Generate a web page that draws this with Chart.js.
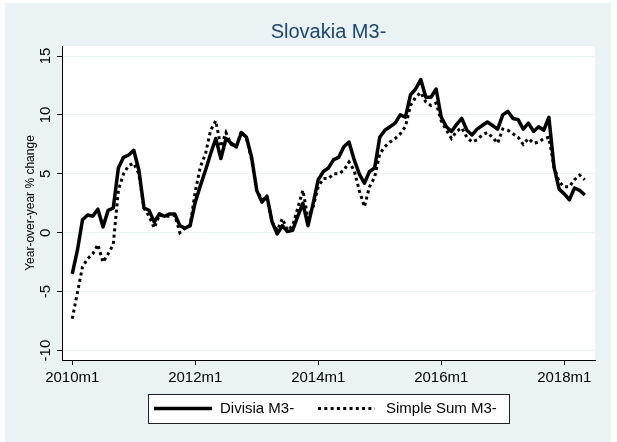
<!DOCTYPE html>
<html lang="en">
<head>
  <meta charset="UTF-8" />
  <title>Slovakia M3-</title>
  <script src="https://cdn.jsdelivr.net/npm/chart.js"></script>
  <style>
    html, body { margin: 0; padding: 0; background: #ffffff; }
    #wrap { width: 617px; height: 442px; }
  </style>
</head>
<body>
<div id="wrap"><canvas id="m3Chart" width="617" height="442"></canvas></div>

<script>
  // monthly year-over-year % change, 2010m1 .. 2018m5
  const startYear = 2010;
  const divisia = [
    -3.5, -1.5, 1.1, 1.5, 1.4, 2.0, 0.5, 1.9, 2.1, 5.5, 6.4, 6.6,
    7.0, 5.3, 2.1, 1.9, 0.9, 1.6, 1.4, 1.6, 1.6, 0.6, 0.4, 0.6,
    2.6, 4.0, 5.3, 6.7, 8.0, 6.3, 8.0, 7.6, 7.3, 8.5, 8.1, 6.4,
    3.6, 2.6, 3.1, 0.9, -0.1, 0.6, 0.1, 0.2, 1.4, 2.5, 0.6, 2.5,
    4.5, 5.2, 5.5, 6.2, 6.4, 7.3, 7.7, 6.2, 5.0, 4.2, 5.2, 5.5,
    8.1, 8.7, 9.0, 9.3, 10.0, 9.8, 11.7, 12.2, 13.0, 11.5, 11.5, 12.2,
    9.8, 9.0, 8.6, 9.2, 9.7, 8.7, 8.3, 8.8, 9.1, 9.4, 9.1, 8.8,
    10.0, 10.3, 9.7, 9.6, 8.8, 9.3, 8.6, 9.0, 8.7, 9.8, 5.6, 3.7,
    3.3, 2.8, 3.8, 3.6, 3.2
  ];
  const simpleSum = [
    -7.3, -5.1, -2.9, -2.2, -1.8, -1.0, -2.5, -1.8, -1.0, 3.6, 5.0, 5.7,
    5.9, 5.0, 2.1, 1.4, 0.4, 1.5, 1.4, 1.4, 1.5, 0.0, 0.4, 0.6,
    3.5, 5.6, 6.7, 8.7, 9.5, 7.3, 8.5, 7.5, 7.3, 8.6, 8.0, 6.2,
    3.6, 2.8, 3.0, 0.9, 0.2, 1.2, 0.2, 0.6, 2.1, 3.6, 1.2, 2.2,
    3.9, 4.6, 4.6, 5.0, 5.0, 5.3, 6.0, 5.3, 3.6, 2.2, 3.9, 4.7,
    6.7, 7.3, 7.7, 8.0, 8.4, 9.0, 10.8, 11.5, 11.9, 11.1, 10.8, 11.0,
    9.5, 8.7, 8.0, 8.6, 8.9, 8.1, 7.7, 7.9, 8.3, 8.5, 8.1, 7.6,
    8.8, 8.7, 8.4, 8.1, 7.5, 8.0, 7.6, 7.7, 8.0, 8.1, 5.6, 4.3,
    3.9, 3.9, 4.5, 4.9, 4.5
  ];
  const seriesLabels = ['Divisia M3-', 'Simple Sum M3-'];
  const xTickValues = [0, 24, 48, 72, 96];
  const xTickLabels = ['2010m1', '2012m1', '2014m1', '2016m1', '2018m1'];
  const yTickValues = [-10, -5, 0, 5, 10, 15];

  const FONT = "'Liberation Sans', Arial, sans-serif";
  const BG = '#eaf2f3';

  const toPoints = arr => arr.map((v, i) => ({ x: i, y: v }));

  // gray graph region, white plot region
  const backdrop = {
    id: 'backdrop',
    beforeDraw(chart) {
      const { ctx, chartArea: a } = chart;
      ctx.save();
      ctx.fillStyle = '#ffffff';
      ctx.fillRect(0, 0, chart.width, chart.height);
      ctx.fillStyle = BG;
      ctx.fillRect(5, 3, 606, 439);
      ctx.fillStyle = '#ffffff';
      ctx.fillRect(a.left, a.top, a.right - a.left, a.bottom - a.top);
      ctx.restore();
    }
  };

  // boxed legend below the axis, like Stata's
  const boxLegend = {
    id: 'boxLegend',
    afterDraw(chart) {
      const { ctx } = chart;
      const ds = chart.data.datasets;
      const box = { x: 148, y: 394, w: 361, h: 29 };
      const cy = box.y + box.h / 2;
      const items = [
        { x0: 154, x1: 212, tx: 220 },
        { x0: 318, x1: 375, tx: 386 }
      ];
      ctx.save();
      ctx.fillStyle = '#ffffff';
      ctx.fillRect(box.x, box.y, box.w, box.h);
      ctx.strokeStyle = '#222222';
      ctx.lineWidth = 1;
      ctx.strokeRect(box.x + 0.5, box.y + 0.5, box.w, box.h);
      items.forEach((it, i) => {
        const d = ds[i];
        ctx.beginPath();
        ctx.setLineDash(d.borderDash || []);
        ctx.lineCap = 'butt';
        ctx.lineWidth = d.borderWidth;
        ctx.strokeStyle = d.borderColor;
        ctx.moveTo(it.x0, cy);
        ctx.lineTo(it.x1, cy);
        ctx.stroke();
        ctx.setLineDash([]);
        ctx.fillStyle = '#000000';
        ctx.font = '15px ' + FONT;
        ctx.textBaseline = 'middle';
        ctx.textAlign = 'left';
        ctx.fillText(d.label, it.tx, cy + 0.5);
      });
      ctx.restore();
    }
  };

  const ctx = document.getElementById('m3Chart').getContext('2d');
  new Chart(ctx, {
    type: 'line',
    data: {
      datasets: [
        {
          label: seriesLabels[0],
          data: toPoints(divisia),
          borderColor: '#000000',
          borderWidth: 3.5,
          borderJoinStyle: 'round',
          pointRadius: 0,
          tension: 0,
          fill: false,
          order: 2
        },
        {
          label: seriesLabels[1],
          data: toPoints(simpleSum),
          borderColor: '#000000',
          borderWidth: 3,
          borderDash: [3, 3.3],
          borderCapStyle: 'butt',
          pointRadius: 0,
          tension: 0,
          fill: false,
          order: 1
        }
      ]
    },
    options: {
      responsive: false,
      animation: false,
      layout: { padding: { left: 0, top: 0, right: 22, bottom: 0 } },
      plugins: {
        legend: { display: false },
        tooltip: { enabled: false },
        title: {
          display: true,
          text: 'Slovakia M3-',
          color: '#1a476f',
          fullSize: false,
          font: { family: FONT, size: 20, weight: 'normal', lineHeight: 1.2 },
          padding: { top: 20, bottom: 2 }
        }
      },
      scales: {
        x: {
          type: 'linear',
          min: -2,
          max: 102,
          afterBuildTicks: s => { s.ticks = xTickValues.map(v => ({ value: v })); },
          afterFit: s => { s.height = 82; },
          ticks: {
            color: '#000000',
            font: { family: FONT, size: 15 },
            padding: 4,
            maxRotation: 0,
            autoSkip: false,
            callback: (v, i) => xTickLabels[i]
          },
          grid: { drawOnChartArea: false, tickLength: 5, tickColor: '#000000' },
          border: { display: true, color: '#000000', width: 1 }
        },
        y: {
          min: -10.8,
          max: 15.85,
          afterBuildTicks: s => { s.ticks = yTickValues.map(v => ({ value: v })); },
          afterFit: s => { s.width = 62; },
          ticks: {
            color: '#000000',
            font: { family: FONT, size: 15 },
            minRotation: 90,
            maxRotation: 90,
            crossAlign: 'center',
            padding: 0,
            autoSkip: false
          },
          grid: { color: BG, lineWidth: 1, tickLength: 5, tickColor: '#000000' },
          border: { display: true, color: '#000000', width: 1 },
          title: {
            display: true,
            text: 'Year-over-year % change',
            color: '#000000',
            font: { family: FONT, size: 12, lineHeight: 1.2 },
            padding: { top: 23, bottom: 0 }
          }
        }
      }
    },
    plugins: [backdrop, boxLegend]
  });
</script>
</body>
</html>
